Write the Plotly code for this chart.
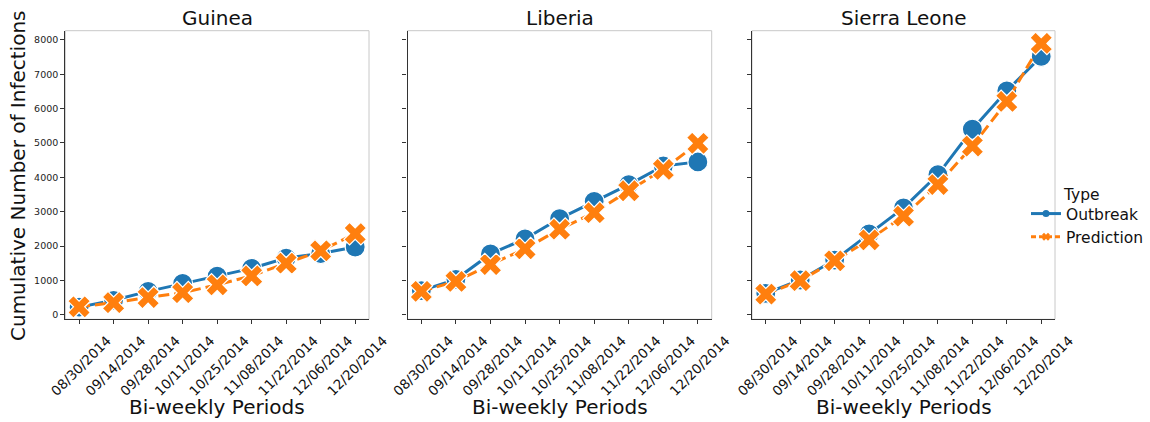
import plotly.graph_objects as go

periods = ["08/30/2014", "09/14/2014", "09/28/2014", "10/11/2014", "10/25/2014",
           "11/08/2014", "11/22/2014", "12/06/2014", "12/20/2014"]
countries = ["Guinea", "Liberia", "Sierra Leone"]

guinea_outbreak = [220, 420, 680, 910, 1120, 1350, 1650, 1780, 1970]
guinea_prediction = [230, 350, 500, 640, 870, 1130, 1500, 1860, 2360]
liberia_outbreak = [700, 1030, 1770, 2210, 2800, 3300, 3790, 4330, 4450]
liberia_prediction = [680, 970, 1460, 1920, 2490, 2970, 3610, 4230, 4990]
sierra_outbreak = [620, 1010, 1590, 2350, 3110, 4080, 5400, 6520, 7520]
sierra_prediction = [600, 990, 1570, 2180, 2870, 3790, 4910, 6210, 7900]

outbreak = [guinea_outbreak, liberia_outbreak, sierra_outbreak]
prediction = [guinea_prediction, liberia_prediction, sierra_prediction]

BLUE = "#1f77b4"
ORANGE = "#ff7f0e"
FONT = "DejaVu Sans"
W, H = 1150, 422

x_doms = [(65.3 / W, 369 / W), (407.5 / W, 711.7 / W), (752 / W, 1055 / W)]
y_dom = ((H - 319.3) / H, (H - 30.7) / H)

fig = go.Figure()
for i, c in enumerate(countries):
    xa = "x" if i == 0 else f"x{i+1}"
    ya = "y" if i == 0 else f"y{i+1}"
    fig.add_trace(go.Scatter(
        x=periods, y=outbreak[i], xaxis=xa, yaxis=ya, mode="lines+markers",
        line=dict(color=BLUE, width=3),
        marker=dict(symbol="circle", size=20, color=BLUE, line=dict(color="white", width=1.2)),
        showlegend=False, name="Outbreak"))
    fig.add_trace(go.Scatter(
        x=periods, y=prediction[i], xaxis=xa, yaxis=ya, mode="lines+markers",
        line=dict(color=ORANGE, width=3, dash="11px,5px"),
        marker=dict(symbol="x", size=20, color=ORANGE, line=dict(color="white", width=1.2)),
        showlegend=False, name="Prediction"))

# legend-only entries
fig.add_trace(go.Scatter(x=[None], y=[None], mode="lines+markers", name="Outbreak",
                         line=dict(color=BLUE, width=3),
                         marker=dict(symbol="circle", size=7, color=BLUE)))
fig.add_trace(go.Scatter(x=[None], y=[None], mode="lines+markers", name="Prediction",
                         line=dict(color=ORANGE, width=3, dash="5px,3px"),
                         marker=dict(symbol="x", size=7, color=ORANGE)))

layout = dict(
    width=W, height=H, margin=dict(l=0, r=0, t=0, b=0, autoexpand=False),
    paper_bgcolor="white", plot_bgcolor="white",
    font=dict(family=FONT, color="#111"),
    showlegend=True,
    legend=dict(x=1026 / W, xanchor="left", y=(H - 197) / H, yanchor="top",
                font=dict(size=15.5, family=FONT, color="#111"),
                bgcolor="rgba(0,0,0,0)", tracegroupgap=0),
)
shapes = []
annotations = []
for i, c in enumerate(countries):
    sfx = "" if i == 0 else str(i + 1)
    layout["xaxis" + sfx] = dict(
        domain=x_doms[i], anchor="y" + sfx, type="category", range=[-0.4, 8.4],
        automargin=False,
        showgrid=False, zeroline=False, showline=True, linecolor="#333", linewidth=1.2,
        ticks="outside", ticklen=4, tickcolor="#333", tickangle=-45,
        ticklabelshift=28, ticklabelstandoff=3,
        tickfont=dict(size=13.5, family=FONT, color="#111"))
    layout["yaxis" + sfx] = dict(
        domain=y_dom, anchor="x" + sfx, range=[-134, 8270], dtick=1000, tick0=0,
        automargin=False,
        showgrid=False, zeroline=False, showline=True, linecolor="#333", linewidth=1.2,
        ticks="outside", ticklen=4, tickcolor="#333",
        showticklabels=(i == 0),
        tickfont=dict(size=9.5, family=FONT, color="#222"))
    shapes.append(dict(type="rect", xref=f"x{sfx} domain", yref=f"y{sfx} domain",
                       x0=0, x1=1, y0=0, y1=1, line=dict(color="#c8c8c8", width=1),
                       layer="below"))
    cx = (x_doms[i][0] + x_doms[i][1]) / 2
    annotations.append(dict(text=c, x=cx, y=(H - 18) / H, xref="paper", yref="paper",
                            xanchor="center", yanchor="middle", showarrow=False,
                            font=dict(size=20, family=FONT, color="#111")))
    annotations.append(dict(text="Bi-weekly Periods", x=cx, y=(H - 407) / H,
                            xref="paper", yref="paper", xanchor="center", yanchor="middle",
                            showarrow=False, font=dict(size=20, family=FONT, color="#111")))

annotations.append(dict(text="Cumulative Number of Infections", x=18 / W, y=(H - 176) / H,
                        xref="paper", yref="paper", xanchor="center", yanchor="middle",
                        textangle=-90, showarrow=False,
                        font=dict(size=20, family=FONT, color="#111")))
annotations.append(dict(text="Type", x=1061 / W, y=(H - 195) / H, xref="paper", yref="paper",
                        xanchor="left", yanchor="middle", showarrow=False,
                        font=dict(size=15.5, family=FONT, color="#111")))
layout["shapes"] = shapes
layout["annotations"] = annotations
fig.update_layout(**layout)
fig.write_html("out.html")
